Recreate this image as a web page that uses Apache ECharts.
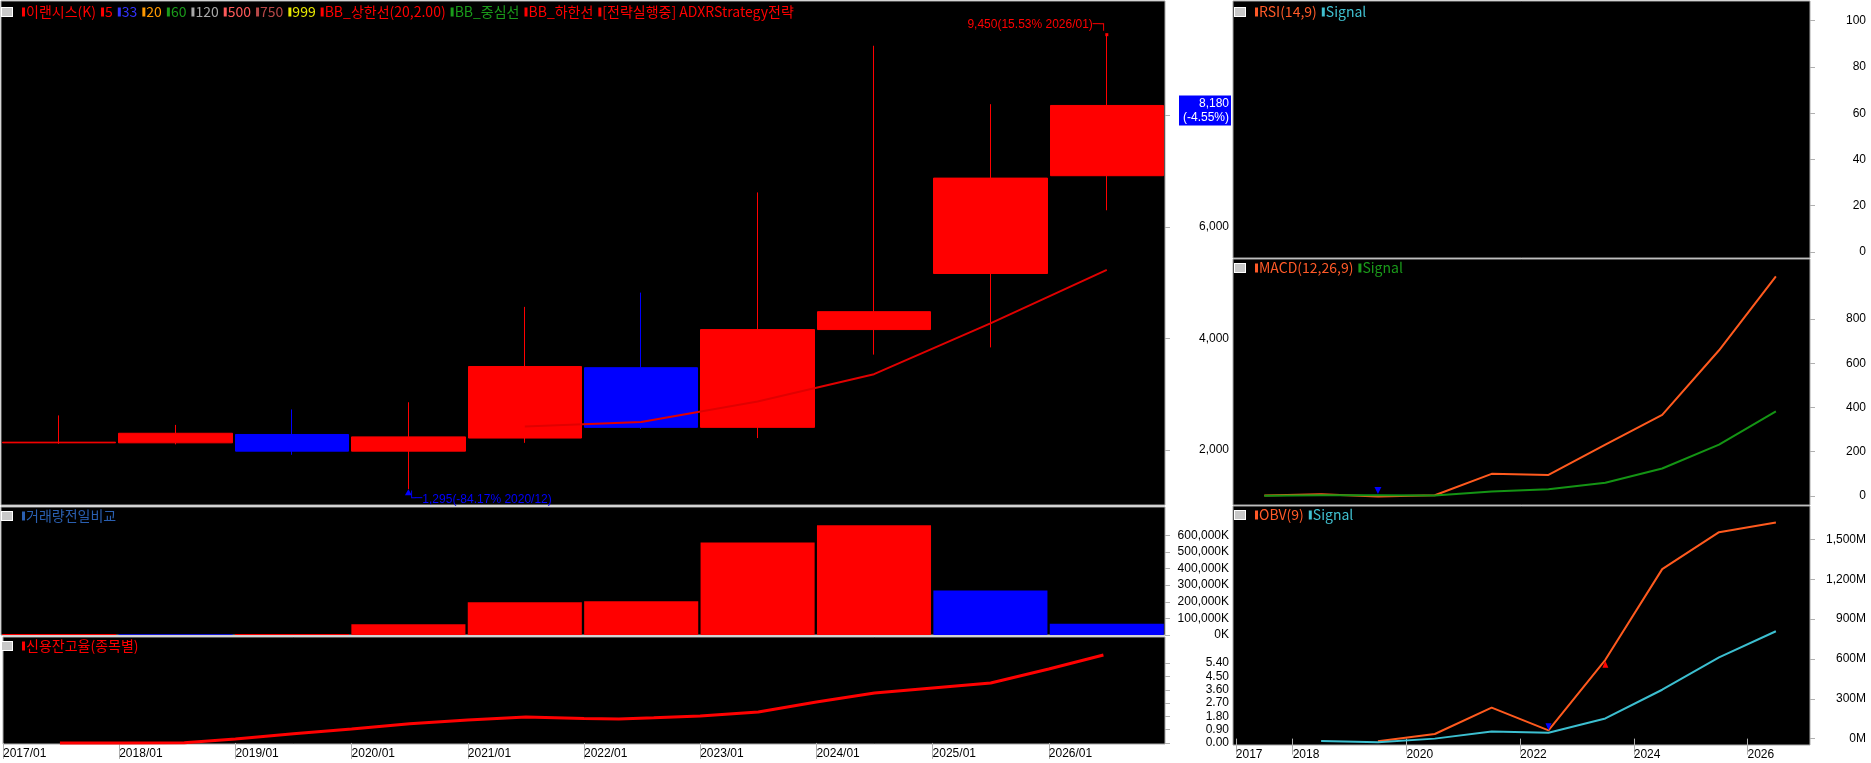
<!DOCTYPE html>
<html><head><meta charset="utf-8">
<script src="https://cdn.jsdelivr.net/npm/echarts@6.0.0/dist/echarts.min.js"></script>
<style>html,body{margin:0;padding:0;background:#fff}#c{width:1871px;height:763px}</style>
</head><body><div id="c"></div><script>
// ---------------- data ----------------
const years = ['2017','2018','2019','2020','2021','2022','2023','2024','2025','2026'];
const xTickLabels = ['2017/01','2018/01','2019/01','2020/01','2021/01','2022/01','2023/01','2024/01','2025/01','2026/01'];
const priceOpen  = [2128, 2128, 2278, 1979, 2214, 3476, 2406, 4160, 5166, 6920];
const priceClose = [2140, 2300, 1979, 2235, 3497, 2406, 4160, 4481, 6877, 8180];
const priceLow   = [2110, 2100, 1914, 1295, 2128, 2380, 2214, 3711, 3840, 6300];
const priceHigh  = [2620, 2450, 2727, 2856, 4567, 4823, 6620, 9251, 8203, 9450];
const ma5        = [null, null, null, null, 2420, 2500, 2870, 3360, 4270, 5230];
const priceTicks = [2000, 4000, 6000, 8000];
const priceLabels = [2000, 4000, 6000];
const highNote = '9,450(15.53% 2026/01)';
const lowNote = '1,295(-84.17% 2020/12)';
const lastPrice = 8180;
const lastNote = ['8,180', '(-4.55%)'];

const volumeK = [6000, 4000, 6000, 65000, 197000, 203000, 557000, 660000, 267000, 67000];
const volumeTicks = [0, 100000, 200000, 300000, 400000, 500000, 600000];

const creditT = [2017.49, 2018.0, 2018.56, 2019.0, 2019.5, 2020.0, 2020.5, 2021.0, 2021.5, 2022.0, 2022.3, 2022.6, 2023.0, 2023.5, 2024.0, 2024.5, 2025.0, 2025.5, 2026.0, 2026.47];
const creditV = [0.00, 0.00, 0.02, 0.27, 0.62, 0.95, 1.30, 1.56, 1.76, 1.65, 1.62, 1.70, 1.83, 2.10, 2.77, 3.38, 3.72, 4.06, 5.00, 5.95];
const creditTicks = [0, 0.9, 1.8, 2.7, 3.6, 4.5, 5.4];

const rightYears = [2017.5, 2018.5, 2019.5, 2020.5, 2021.5, 2022.5, 2023.5, 2024.5, 2025.5, 2026.5];
const rightTickValues = [2017, 2018, 2020, 2022, 2024, 2026];
const rsiTicks = [0, 20, 40, 60, 80, 100];
const macd       = [2, 8, -3, 3, 100, 95, 232, 367, 659, 993];
const macdSignal = [1, 3, 3, 2, 20, 30, 60, 124, 232, 383];
const macdTicks = [0, 200, 400, 600, 800];
const obvM       = [null, null, -20, 35, 233, 62, 593, 1276, 1554, 1626];
const obvSignalM = [null, -18, -27, 0, 53, 44, 152, 368, 611, 808];
const obvTicks = [0, 300, 600, 900, 1200, 1500];

const priceLegend = [['이랜시스(K)','#ff0000'],['5','#ff0000'],['33','#3333ff'],['20','#ff9900'],['60','#1a9a1a'],['120','#a8a8a8'],['500','#ff5a5a'],['750','#b84848'],['999','#e8e800'],['BB_상한선(20,2.00)','#ff0000'],['BB_중심선','#1a9a1a'],['BB_하한선','#ff0000'],['[전략실행중] ADXRStrategy전략','#ff0000']];
const volumeLegend = [['거래량전일비교','#2a5fb0']];
const creditLegend = [['신용잔고율(종목별)','#ff0000']];
const rsiLegend = [['RSI(14,9)','#ff5a28'],['Signal','#40c0d0']];
const macdLegend = [['MACD(12,26,9)','#ff5a28'],['Signal','#1a9a1a']];
const obvLegend = [['OBV(9)','#ff5a28'],['Signal','#40c0d0']];

// ---------------- styling helpers ----------------
const KR = "'Noto Sans CJK KR', sans-serif";
const NUM = "'Liberation Sans', 'DejaVu Sans', sans-serif";
const RED = '#ff0000', BLUE = '#0000ff', ORANGE = '#ff5a1e', GREEN = '#149414', CYAN = '#3cbfd0';
const fmtComma = v => Math.round(v).toString().replace(/\B(?=(\d{3})+(?!\d))/g, ',');

function legendTitle(items, left, top) {
  let text = '{ic|}  ';
  const rich = { ic: { width: 10, height: 8, backgroundColor: '#c8c8c8', borderColor: '#ffffff', borderWidth: 1 } };
  items.forEach((it, i) => {
    text += '{m' + i + '|}{t' + i + '|' + it[0] + '} ';
    rich['m' + i] = { width: 3, height: 9, backgroundColor: it[1] };
    rich['t' + i] = { color: it[1], fontSize: 14, fontFamily: KR, fontWeight: 'normal', padding: [0, 0, 0, 1] };
  });
  return { left: left, top: top, padding: 0, text: text, textStyle: { rich: rich } };
}

const gridBase = { show: true, backgroundColor: '#000000', borderColor: '#a8a8a8', borderWidth: 1 };
const L = { left: 1, width: 1164 };
const R = { left: 1233, width: 577 };

function yAx(gi, min, max, tickVals, labelVals, fmt, margin) {
  return {
    type: 'value', gridIndex: gi, position: 'right', min: min, max: max, scale: true,
    splitLine: { show: false }, axisLine: { show: false },
    axisTick: { show: true, inside: false, length: 5, lineStyle: { color: '#b0b0b0' }, customValues: tickVals },
    axisLabel: { show: true, color: '#000', fontSize: 12, fontFamily: NUM, align: 'right', margin: margin,
      customValues: labelVals, formatter: fmt }
  };
}

const candleData = years.map((y, i) => [priceOpen[i], priceClose[i], priceLow[i], priceHigh[i]]);
const volumeData = volumeK.map((v, i) => ({
  value: v,
  itemStyle: { color: (i === 0 || v >= volumeK[i - 1]) ? RED : BLUE }
}));
const creditData = creditT.map((t, i) => [t, creditV[i]]);
const macdData = rightYears.map((t, i) => [t, macd[i]]);
const macdSigData = rightYears.map((t, i) => [t, macdSignal[i]]);
const obvData = rightYears.map((t, i) => [t, obvM[i]]).filter(d => d[1] !== null);
const obvSigData = rightYears.map((t, i) => [t, obvSignalM[i]]).filter(d => d[1] !== null);

const option = {
  backgroundColor: '#ffffff',
  animation: false,
  title: [
    legendTitle(priceLegend, 2, 3),
    legendTitle(volumeLegend, 2, 507),
    legendTitle(creditLegend, 2, 637),
    legendTitle(rsiLegend, 1235, 3),
    legendTitle(macdLegend, 1235, 259),
    legendTitle(obvLegend, 1235, 506)
  ],
  grid: [
    Object.assign({}, gridBase, L, { top: 1, height: 504 }),
    Object.assign({}, gridBase, L, { top: 507, height: 128 }),
    Object.assign({}, gridBase, L, { top: 637, height: 107 }),
    Object.assign({}, gridBase, R, { top: 1, height: 257 }),
    Object.assign({}, gridBase, R, { top: 259, height: 246 }),
    Object.assign({}, gridBase, R, { top: 506, height: 239 })
  ],
  xAxis: [
    { type: 'category', gridIndex: 0, data: years, boundaryGap: true, show: false },
    { type: 'category', gridIndex: 1, data: years, boundaryGap: true, show: false },
    { type: 'value', gridIndex: 2, min: 2017, max: 2027, position: 'bottom',
      splitLine: { show: false }, axisLine: { show: false },
      axisTick: { show: true, length: 16, lineStyle: { color: '#b0b0b0' }, customValues: years.map(Number) },
      axisLabel: { color: '#000', fontSize: 12, fontFamily: NUM, align: 'left', margin: 4,
        customValues: years.map(Number), formatter: v => xTickLabels[years.indexOf(String(v))] || '' } },
    { type: 'value', gridIndex: 3, min: 2016.95, max: 2027.1, show: false },
    { type: 'value', gridIndex: 4, min: 2016.95, max: 2027.1, show: false },
    { type: 'value', gridIndex: 5, min: 2016.95, max: 2027.1, position: 'bottom',
      splitLine: { show: false }, axisLine: { show: false },
      axisTick: { show: true, length: 16, lineStyle: { color: '#b0b0b0' }, customValues: rightTickValues },
      axisLabel: { color: '#000', fontSize: 12, fontFamily: NUM, align: 'left', margin: 4,
        customValues: rightTickValues, formatter: v => String(v) } }
  ],
  yAxis: [
    yAx(0, 1013, 10054, priceTicks, priceLabels, v => fmtComma(v), 64),
    yAx(1, 0, 770000, volumeTicks, volumeTicks, v => fmtComma(v) + 'K', 64),
    yAx(2, -0.07, 7.17, creditTicks, creditTicks, v => v.toFixed(2), 64),
    yAx(3, -2.6, 108.5, rsiTicks, rsiTicks, v => String(v), 56),
    yAx(4, -41, 1072, macdTicks, macdTicks, v => String(v), 56),
    yAx(5, -48, 1751, obvTicks, obvTicks, v => fmtComma(v) + 'M', 56)
  ],
  series: [
    {
      type: 'candlestick', xAxisIndex: 0, yAxisIndex: 0, data: candleData, barWidth: '98%',
      itemStyle: { color: RED, color0: BLUE, borderColor: RED, borderColor0: BLUE, borderWidth: 1 },
      markPoint: {
        silent: true,
        data: [
          { coord: [years[9], priceHigh[9]], symbol: 'rect', symbolSize: [3, 3], itemStyle: { color: RED },
            label: { show: true, position: 'left', distance: 0, offset: [2, -10],
              formatter: '{a|' + highNote + '}{b|─┐}',
              rich: { a: { color: RED, fontSize: 12, fontFamily: NUM }, b: { color: RED, fontSize: 12, fontFamily: "'DejaVu Sans Mono', monospace" } } } },
          { coord: [years[3], priceLow[3]], symbol: 'triangle', symbolSize: [7, 6], symbolOffset: [0, 3], itemStyle: { color: BLUE },
            label: { show: true, position: 'right', distance: 0, offset: [-4, 7],
              formatter: '{b|└─}{a|' + lowNote + '}',
              rich: { a: { color: BLUE, fontSize: 12, fontFamily: NUM }, b: { color: BLUE, fontSize: 12, fontFamily: "'DejaVu Sans Mono', monospace" } } } }
        ]
      },
      markLine: {
        silent: true, symbol: ['none', 'none'],
        lineStyle: { color: 'rgba(0,0,0,0)', width: 0 },
        data: [{ yAxis: lastPrice, lineStyle: { color: 'rgba(0,0,0,0)', width: 0 } }],
        label: { show: true, position: 'end', distance: 14, offset: [0, 5],
          formatter: '{r|' + lastNote[0] + '}\n{r|' + lastNote[1] + '}',
          backgroundColor: BLUE, padding: [1, 2],
          rich: { r: { color: '#fff', fontSize: 12, fontFamily: NUM, width: 48, align: 'right', lineHeight: 14 } } }
      }
    },
    { type: 'line', xAxisIndex: 0, yAxisIndex: 0, data: ma5, symbol: 'none', lineStyle: { color: '#e00000', width: 2 }, z: 5 },
    { type: 'bar', xAxisIndex: 1, yAxisIndex: 1, data: volumeData, barWidth: '98%' },
    { type: 'line', xAxisIndex: 2, yAxisIndex: 2, data: creditData, symbol: 'none', lineStyle: { color: RED, width: 3 } },
    { type: 'line', xAxisIndex: 4, yAxisIndex: 4, data: macdData, symbol: 'none', lineStyle: { color: ORANGE, width: 2 },
      markPoint: { silent: true, data: [{ coord: [rightYears[2], 25], symbol: 'triangle', symbolRotate: 180, symbolSize: [7, 7], itemStyle: { color: BLUE }, label: { show: false } }] } },
    { type: 'line', xAxisIndex: 4, yAxisIndex: 4, data: macdSigData, symbol: 'none', lineStyle: { color: GREEN, width: 2 } },
    { type: 'line', xAxisIndex: 5, yAxisIndex: 5, data: obvData, symbol: 'none', lineStyle: { color: ORANGE, width: 2 },
      markPoint: { silent: true, data: [
        { coord: [rightYears[6], 560], symbol: 'triangle', symbolSize: [6, 7], itemStyle: { color: RED }, label: { show: false } },
        { coord: [rightYears[5], 90], symbol: 'triangle', symbolRotate: 180, symbolSize: [6, 7], itemStyle: { color: BLUE }, label: { show: false } }
      ] } },
    { type: 'line', xAxisIndex: 5, yAxisIndex: 5, data: obvSigData, symbol: 'none', lineStyle: { color: CYAN, width: 2 } }
  ]
};

const chart = echarts.init(document.getElementById('c'), null, { renderer: 'canvas' });
chart.setOption(option);
</script></body></html>
